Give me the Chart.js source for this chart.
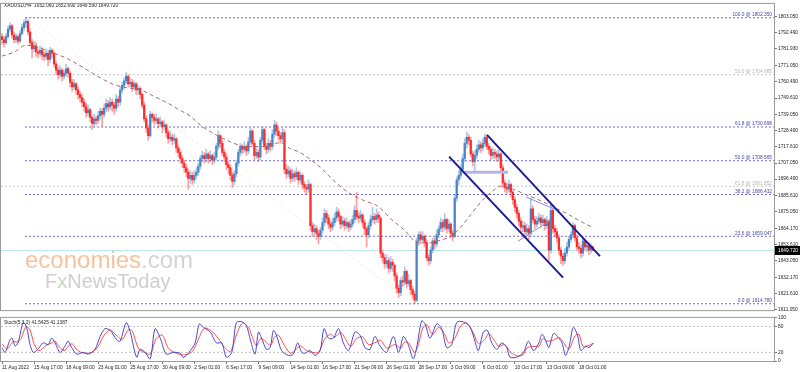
<!DOCTYPE html>
<html>
<head>
<meta charset="utf-8">
<script src="https://cdn.jsdelivr.net/npm/chart.js@4.4.1/dist/chart.umd.min.js"></script>
<style>
	body { margin: 0; background: #fff; width: 800px; height: 372px; overflow: hidden; position: relative; }
	canvas { position: absolute; left: 0; }
	#main { top: 0; }
	#stoch { top: 314px; }
</style>
</head>
<body>
<canvas id="main" width="800" height="314"></canvas>
<canvas id="stoch" width="800" height="58"></canvas>
<script>
// XAUUSD H4, one value per bar (bar 0 = 11 Aug 2022 01:00), opens follow previous close
const firstOpen = 1790;
const closes = [
	1788,1786,1790,1795,1797,1791,1788,1790,1787,1792,
	1796,1799,1800,1793,1786,1782,1784,1780,1779,1781,
	1778,1777,1779,1775,1781,1779,1772,1768,1765,1768,
	1764,1766,1769,1766,1760,1757,1759,1755,1752,1750,
	1747,1744,1740,1742,1737,1733,1736,1735,1738,1741,
	1739,1743,1746,1744,1747,1745,1743,1749,1747,1755,
	1758,1761,1764,1759,1760,1757,1759,1755,1756,1752,
	1745,1736,1730,1725,1739,1737,1735,1736,1733,1734,
	1731,1732,1727,1723,1724,1722,1723,1717,1714,1710,
	1707,1704,1701,1697,1699,1696,1699,1701,1705,1710,
	1712,1710,1713,1710,1712,1709,1711,1718,1725,1720,
	1714,1711,1706,1704,1699,1695,1700,1707,1714,1718,
	1716,1718,1715,1721,1728,1720,1712,1714,1711,1722,
	1729,1718,1716,1720,1718,1726,1732,1728,1725,1723,
	1727,1703,1700,1702,1697,1700,1698,1701,1696,1699,
	1693,1691,1690,1693,1666,1662,1664,1661,1659,1663,
	1668,1674,1671,1667,1665,1668,1671,1675,1672,1667,
	1669,1666,1668,1665,1667,1670,1676,1672,1671,1673,
	1668,1664,1660,1666,1670,1672,1670,1673,1671,1648,
	1645,1641,1643,1638,1642,1640,1633,1625,1622,1630,
	1629,1636,1628,1630,1624,1621,1617,1656,1660,1657,
	1659,1655,1645,1643,1650,1656,1654,1660,1664,1668,
	1665,1670,1664,1667,1661,1659,1684,1696,1699,1703,
	1710,1720,1724,1722,1713,1708,1712,1716,1719,1717,
	1720,1724,1718,1716,1712,1714,1713,1711,1713,1704,
	1694,1691,1690,1693,1688,1683,1678,1674,1669,1665,
	1666,1662,1664,1661,1677,1670,1667,1669,1671,1668,
	1670,1666,1669,1650,1676,1664,1662,1658,1650,1646,
	1643,1648,1652,1657,1660,1666,1658,1652,1651,1648,
	1656,1652,1653,1650,1652.06,1649.72
];
const highs = [
	1792,1790,1792,1797,1799,1798,1793,1792,1791,1794,
	1798,1801,1802.35,1801,1795,1788,1787,1786,1782,1784,
	1783,1780,1782,1780,1783,1782,1780,1774,1770,1771,
	1769,1768,1772,1770,1767,1762,1762,1760,1757,1754,
	1752,1749,1746,1745,1743,1738,1739,1738,1741,1743,
	1743,1746,1749,1748,1750,1749,1747,1752,1751,1757,
	1760,1763,1766.5,1765,1763,1762,1761,1760,1758,1757,
	1753,1747,1738,1732,1741,1740,1739,1739,1737,1737,
	1735,1735,1733,1729,1728,1726,1726,1724,1719,1716,
	1712,1709,1706,1703,1702,1701,1702,1704,1707,1712,
	1715,1714,1716,1714,1715,1713,1714,1720,1728,1726,
	1722,1716,1713,1708,1706,1701,1702,1709,1716,1720,
	1719,1721,1719,1724,1730,1729,1722,1717,1716,1724,
	1731,1730,1720,1723,1722,1729,1735,1734,1730,1727,
	1730,1729,1706,1705,1704,1703,1702,1704,1702,1701,
	1700,1695,1693,1696,1694,1668,1667,1666,1663,1665,
	1671,1677,1676,1673,1669,1671,1674,1678,1677,1673,
	1672,1671,1671,1669,1670,1673,1679,1688,1675,1676,
	1674,1670,1665,1668,1673,1678,1674,1677,1675,1672,
	1650,1647,1647,1645,1646,1644,1641,1635,1627,1632,
	1633,1639,1637,1634,1631,1626,1623,1658,1662,1662,
	1662,1660,1657,1647,1652,1658,1658,1663,1666,1671,
	1670,1674,1671,1670,1668,1663,1686,1698,1702,1706,
	1713,1723,1727.5,1726,1724,1715,1715,1719,1722,1721,
	1723,1726,1725.5,1720,1718,1717,1716,1715,1716,1714,
	1706,1696,1694,1696,1694,1689,1685,1680,1676,1671,
	1669,1668,1667,1666,1684,1679,1672,1672,1674,1673,
	1673,1671,1672,1670,1681,1677,1666,1664,1660,1652,
	1648,1651,1655,1659,1662,1668,1667,1660,1655,1653,
	1658,1657,1656,1655,1654,1652.69
];
const lows = [
	1785,1783,1785,1789,1793,1789,1786,1786,1785,1786,
	1791,1794,1796,1791,1784,1776,1780,1777,1776,1777,
	1775,1774,1775,1771,1773,1776,1770,1765,1762,1763,
	1761,1762,1764,1763,1757,1754,1755,1752,1749,1747,
	1744,1741,1737,1738,1734,1729,1731,1732,1733,1736,
	1731,1737,1741,1741,1742,1741,1739,1741,1744,1745,
	1753,1756,1759,1757,1757,1754,1755,1752,1752,1749,
	1743,1734,1727,1722,1724,1734,1732,1733,1730,1731,
	1727,1729,1724,1720,1721,1719,1720,1714,1711,1707,
	1704,1701,1698,1690,1694,1693,1694,1697,1699,1703,
	1708,1707,1708,1707,1708,1706,1707,1709,1716,1717,
	1712,1708,1703,1700,1696,1691,1693,1698,1705,1712,
	1713,1714,1712,1713,1719,1718,1709,1710,1708,1709,
	1720,1716,1713,1714,1715,1716,1724,1725,1722,1720,
	1721,1700,1697,1698,1694,1695,1695,1696,1693,1694,
	1690,1688,1687,1688,1663,1659,1660,1657,1654,1657,
	1661,1666,1668,1664,1662,1663,1666,1669,1669,1664,
	1665,1663,1664,1662,1663,1665,1668,1670,1668,1669,
	1665,1660,1652,1658,1664,1668,1667,1668,1668,1645,
	1642,1638,1639,1635,1636,1636,1630,1622,1619,1620,
	1626,1627,1625,1626,1621,1618,1614.78,1616,1653,1654,
	1655,1652,1643,1640,1641,1648,1651,1652,1658,1662,
	1662,1663,1661,1662,1658,1656,1658,1682,1693,1697,
	1701,1708,1717,1719,1711,1705,1701,1710,1714,1714,
	1715,1718,1716,1713,1709,1710,1710,1708,1709,1701,
	1691,1688,1687,1688,1685,1680,1675,1671,1666,1662,
	1662,1659,1660,1657,1659,1668,1664,1665,1667,1665,
	1666,1663,1664,1642,1648,1661,1659,1655,1647,1641,
	1640,1641,1646,1650,1655,1658,1656,1650,1648,1645,
	1646,1650,1649,1647,1648,1649.59
];
const lastQuote = 'XAUUSD,H4  1652.060 1652.690 1649.590 1649.720';
const lastPrice = 1649.72;

// moving average, read every few bars
const maBars = [0,6,12,19,26,32,40,48,56,62,69,76,83,88,94,99,106,114,122,130,139,144,148,154,160,167,174,181,188,194,201,207,212,219,225,230,234,240,245,249,255,262,269,276,283,290,295];
const maValues = [1777.2,1779.8,1784.3,1782.4,1779.1,1775.9,1770.1,1763.7,1758.5,1756.5,1755.2,1750.7,1746.2,1742.3,1737.8,1732.0,1726.2,1721.0,1717.8,1717.8,1720.4,1716.5,1714.5,1709.4,1702.9,1693.9,1686.8,1682.3,1678.4,1670.6,1662.9,1655.1,1654.5,1656.5,1659.7,1666.7,1673.2,1682.9,1688.7,1691.9,1690.0,1686.1,1682.3,1677.7,1673.2,1668.0,1664.8];

// fibonacci levels
const fibNames = ['100.0','50.0','61.8','50.0','61.8','38.2','23.6','0.0'];
const fibPrices = [1802.350,1764.985,1730.698,1708.565,1691.852,1686.432,1659.047,1614.780];
const fibGrey = [false,true,false,false,true,false,false,false];
const fibStartBar = 11.5;

// drawn objects: [bar, price] end points
const channelUpper = [[242.1,1725.5],[298.5,1646.0]];
const channelLower = [[223.2,1711.3],[280.1,1631.9]];
const boxLine = [[230.2,1701.0],[252.6,1701.0]];
const wedgeTop = [[261.6,1684.8],[277.6,1675.8]];
const wedgeBottom = [[257.6,1655.8],[273.6,1669.3]];
const fibBase = [[12.5,1802.35],[206,1614.78]];

const priceTicks = [1803.050,1792.490,1781.930,1771.050,1760.490,1749.610,1739.050,1728.490,1717.610,1707.050,1696.490,1685.610,1675.050,1664.170,1653.610,1643.050,1632.170,1621.610,1611.050];
const timeLabels = ['11 Aug 2022','15 Aug 17:00','18 Aug 09:00','23 Aug 01:00','25 Aug 17:00','30 Aug 09:00','2 Sep 01:00','6 Sep 17:00','9 Sep 09:00','14 Sep 01:00','16 Sep 17:00','21 Sep 09:00','26 Sep 01:00','28 Sep 17:00','3 Oct 09:00','6 Oct 01:00','10 Oct 17:00','13 Oct 09:00','18 Oct 01:00'];
const timeLabelBars = [0,16,32,48,64,80,96,112,128,144,160,176,192,208,224,240,256,272,288];

// stochastic (5,3,3): [bar, value]
const stochMain = [[0,31],[1.5,20],[4,49],[5,53],[6.5,35],[8,42],[10.6,89],[12.3,78],[14,38],[15.6,20],[17.3,24],[20.6,42],[23,38],[24.8,53],[26.5,42],[29,20],[31.5,35],[33,46],[34.8,31],[37.3,16],[40.6,20],[43,16],[46.4,27],[49,57],[51.4,75],[54,71],[57.3,49],[59,46],[62,89],[64,67],[67.2,9],[69,27],[71.4,20],[74,5],[76.4,75],[79,53],[82,16],[85.5,20],[89,18],[90.5,8],[94,24],[96.4,42],[98.5,86],[100.5,78],[104,67],[107,42],[109.7,42],[112,9],[114.7,20],[117,89],[119.7,91],[122,82],[124,49],[126.3,16],[128,67],[129.6,53],[132,27],[133.8,31],[135.5,71],[137,60],[139.6,24],[143,13],[145.4,16],[147.6,42],[149.6,20],[151.3,18],[153.8,24],[156.3,13],[158.8,24],[160.8,75],[163,53],[165.4,53],[168,75],[170.4,42],[173,24],[176.2,67],[178.7,60],[181.2,31],[183.7,27],[186.2,57],[188.7,35],[192,20],[195.4,57],[197.8,20],[198.7,27],[200.4,57],[202.8,38],[205.3,5],[207,31],[209.5,93],[211.2,86],[213.7,53],[217,86],[219.5,75],[222,31],[224.5,38],[227,89],[230.3,91],[233.7,78],[236.1,46],[237.8,24],[240.3,67],[242.3,71],[244.5,42],[247,27],[249.5,42],[252,31],[253.6,9],[257,9],[260.3,20],[262.8,46],[265.4,24],[268,42],[269.6,62],[271.3,49],[273,31],[275.4,64],[278,53],[279.6,42],[281.3,13],[283,31],[285.2,78],[287.3,60],[289,24],[291.5,35],[293,31],[295.2,41.5425]];
const stochSignal = [[0,40],[2.5,28],[5.5,45],[7.5,44],[9.5,52],[12,80],[14,72],[16,40],[18.5,24],[22,36],[25,42],[26.5,46],[28,36],[31,24],[33,34],[35,40],[37,28],[40,19],[43,18],[45,20],[48,34],[51,60],[54,72],[57,60],[60,50],[63,72],[65,70],[68,30],[71,20],[74,16],[77,52],[80,60],[83,30],[87,18],[91,14],[95,22],[98,50],[101,76],[105,68],[108,52],[111,32],[114,22],[117,60],[120,88],[123,78],[125,55],[127,35],[129,52],[131,48],[134,36],[136,55],[138,60],[141,36],[144,18],[147,28],[149,35],[152,24],[155,20],[158,20],[161,50],[164,62],[166,55],[169,66],[171,55],[174,34],[177,52],[180,56],[183,38],[186,42],[189,48],[192,30],[196,38],[199,30],[201,44],[203,42],[206,20],[208,40],[210,76],[212,84],[215,62],[218,78],[221,62],[223,42],[226,52],[229,82],[232,88],[235,68],[238,40],[241,50],[243,64],[246,46],[248,34],[251,38],[254,20],[257,12],[260,14],[262,30],[265,34],[268,34],[270,52],[272,46],[275,48],[278,54],[280,45],[283,28],[286,58],[288,62],[290,34],[292,34],[295.2,41.1387]];
const stochText = 'Stoch(5,3,3) 41.5425 41.1387';

// look
const X_MIN = -0.5, X_MAX = 385.4;
const BULL = '#4a86c4', BEAR = '#ff2b2b';
const BULL_WICK = 'rgba(74,134,196,0.45)', BEAR_WICK = 'rgba(255,43,43,0.45)';
const FIB_BLUE = '#6b6bd0', FIB_GREY = '#c8c8c8';
const FONT = 'Liberation Sans';
const SMALL = 4.8;

const opens = closes.map((c, i) => (i === 0 ? firstOpen : closes[i - 1]));
const toPts = (pairs) => pairs.map((p) => ({ x: p[0], y: p[1] }));

function lineSet(points, color, width, dash, order) {
	return {
		type: 'line',
		data: points,
		borderColor: color,
		borderWidth: width,
		borderDash: dash || [],
		pointRadius: 0,
		fill: false,
		order: order
	};
}

const mainSets = [];
// fibonacci lines
fibPrices.forEach((p, k) => {
	const start = fibGrey[k] ? X_MIN : fibStartBar;
	mainSets.push(lineSet([{ x: start, y: p }, { x: X_MAX, y: p }], fibGrey[k] ? FIB_GREY : FIB_BLUE, 1, [2, 2], 9));
});
mainSets.push(lineSet(toPts(fibBase), '#e4e4e4', 1, [2, 3], 9));
mainSets.push(lineSet([{ x: X_MIN, y: lastPrice }, { x: X_MAX, y: lastPrice }], '#bfe6ee', 1, [], 9));
// candles
mainSets.push({
	type: 'bar',
	data: closes.map((c, i) => ({ x: i, y: [lows[i], highs[i]] })),
	backgroundColor: closes.map((c, i) => (c >= opens[i] ? BULL_WICK : BEAR_WICK)),
	barThickness: 1,
	grouped: false,
	order: 5
});
mainSets.push({
	type: 'bar',
	data: closes.map((c, i) => ({ x: i, y: [opens[i], c] })),
	backgroundColor: closes.map((c, i) => (c >= opens[i] ? BULL : BEAR)),
	barThickness: 1.6,
	minBarLength: 1,
	grouped: false,
	order: 4
});
// moving average
mainSets.push(Object.assign(lineSet(maBars.map((b, k) => ({ x: b, y: maValues[k] })), '#a86a6a', 1, [4, 3], 3), { cubicInterpolationMode: 'monotone' }));
// hand drawn objects
mainSets.push(lineSet(toPts(boxLine), '#b4b4e6', 3, [], 2));
mainSets.push(lineSet(toPts(wedgeTop), '#8f8fd8', 1, [], 2));
mainSets.push(lineSet(toPts(wedgeBottom), '#8f8fd8', 1, [], 2));
mainSets.push(lineSet(toPts(channelUpper), '#1c1c96', 2, [], 1));
mainSets.push(lineSet(toPts(channelLower), '#1c1c96', 2, [], 1));

const mainOverlay = {
	id: 'mainOverlay',
	beforeDatasetsDraw(chart) {
		const ctx = chart.ctx;
		ctx.save();
		ctx.textBaseline = 'alphabetic';
		ctx.textAlign = 'left';
		ctx.font = '24px "' + FONT + '"';
		ctx.fillStyle = '#f7c29e';
		ctx.fillText('economies', 25, 268);
		const w = ctx.measureText('economies').width;
		ctx.fillStyle = '#d4d4d4';
		ctx.fillText('.com', 25 + w, 268);
		ctx.font = '20px "' + FONT + '"';
		ctx.fillStyle = '#cfcfcf';
		ctx.fillText('F', 45, 288);
		const wf = ctx.measureText('F').width;
		ctx.fillStyle = '#c4d8c4';
		ctx.fillText('x', 45 + wf, 288);
		const wx = ctx.measureText('x').width;
		ctx.fillStyle = '#cfcfcf';
		ctx.fillText('NewsToday', 45 + wf + wx, 288);
		ctx.restore();
	},
	afterDraw(chart) {
		const ctx = chart.ctx;
		const area = chart.chartArea;
		const y = chart.scales.y;
		ctx.save();
		// fib labels
		ctx.font = SMALL + 'px "' + FONT + '"';
		ctx.textAlign = 'right';
		ctx.textBaseline = 'middle';
		fibPrices.forEach((p, k) => {
			ctx.fillStyle = fibGrey[k] ? '#b4b4b4' : '#4646b4';
			ctx.fillText(fibNames[k] + ' @ ' + p.toFixed(3), area.right - 2, y.getPixelForValue(p) - 3);
		});
		// header
		ctx.textAlign = 'left';
		ctx.fillStyle = '#222';
		ctx.fillText(lastQuote, 4, 6);
		// frame
		ctx.strokeStyle = '#9a9a9a';
		ctx.lineWidth = 1;
		ctx.strokeRect(area.left - 0.5, area.top - 0.5, area.right - area.left + 1, area.bottom - area.top + 1);
		// price tag
		const py = y.getPixelForValue(lastPrice);
		ctx.fillStyle = '#000';
		ctx.fillRect(area.right + 1, py - 4.5, 26, 9);
		ctx.fillStyle = '#fff';
		ctx.fillText(lastPrice.toFixed(3), area.right + 4, py);
		ctx.restore();
	}
};

new Chart(document.getElementById('main'), {
	type: 'bar',
	data: { datasets: mainSets },
	options: {
		responsive: false,
		animation: false,
		layout: { padding: { left: 1, top: 2, bottom: 1, right: 0 } },
		plugins: { legend: { display: false }, tooltip: { enabled: false } },
		scales: {
			x: { type: 'linear', offset: false, min: X_MIN, max: X_MAX, display: false },
			y: {
				position: 'right',
				min: 1610.6,
				max: 1811.45,
				afterFit: (s) => { s.width = 26; },
				afterBuildTicks: (s) => { s.ticks = priceTicks.map((v) => ({ value: v })); },
				ticks: {
					font: { family: FONT, size: SMALL },
					color: '#222',
					padding: 1,
					callback: (v) => Number(v).toFixed(3)
				},
				grid: { drawOnChartArea: false, tickLength: 3, color: '#777' },
				border: { display: false }
			}
		}
	},
	plugins: [mainOverlay]
});

const stochOverlay = {
	id: 'stochOverlay',
	afterDraw(chart) {
		const ctx = chart.ctx;
		const area = chart.chartArea;
		ctx.save();
		ctx.font = SMALL + 'px "' + FONT + '"';
		ctx.textBaseline = 'middle';
		ctx.fillStyle = '#222';
		ctx.fillText(stochText, 4, area.top + 5);
		ctx.strokeStyle = '#9a9a9a';
		ctx.lineWidth = 1;
		ctx.strokeRect(area.left - 0.5, area.top - 0.5, area.right - area.left + 1, area.bottom - area.top + 1);
		ctx.restore();
	}
};

new Chart(document.getElementById('stoch'), {
	type: 'line',
	data: {
		datasets: [
			lineSet([{ x: X_MIN, y: 80 }, { x: X_MAX, y: 80 }], '#c4c4c4', 1, [2, 2], 5),
			lineSet([{ x: X_MIN, y: 20 }, { x: X_MAX, y: 20 }], '#c4c4c4', 1, [2, 2], 5),
			Object.assign(lineSet(toPts(stochSignal), '#ff4a4a', 1, [], 2), { tension: 0.3 }),
			Object.assign(lineSet(toPts(stochMain), '#4848cc', 1, [], 1), { tension: 0.3 })
		]
	},
	options: {
		responsive: false,
		animation: false,
		layout: { padding: { left: 1, top: 1, bottom: 0, right: 0 } },
		plugins: { legend: { display: false }, tooltip: { enabled: false } },
		scales: {
			x: {
				type: 'linear',
				min: X_MIN,
				max: X_MAX,
				afterFit: (s) => { s.height = 11; },
				afterBuildTicks: (s) => { s.ticks = timeLabelBars.map((v) => ({ value: v })); },
				ticks: {
					font: { family: FONT, size: SMALL },
					color: '#222',
					align: 'start',
					padding: 1,
					autoSkip: false,
					maxRotation: 0,
					minRotation: 0,
					callback: (v, i) => timeLabels[i]
				},
				grid: { drawOnChartArea: false, tickLength: 3, color: '#777' },
				border: { display: false }
			},
			y: {
				position: 'right',
				min: 0,
				max: 100,
				afterFit: (s) => { s.width = 26; },
				afterBuildTicks: (s) => { s.ticks = [0, 20, 80, 100].map((v) => ({ value: v })); },
				ticks: { font: { family: FONT, size: SMALL }, color: '#222', padding: 1 },
				grid: { drawOnChartArea: false, tickLength: 3, color: '#777' },
				border: { display: false }
			}
		}
	},
	plugins: [stochOverlay]
});
</script>
</body>
</html>
